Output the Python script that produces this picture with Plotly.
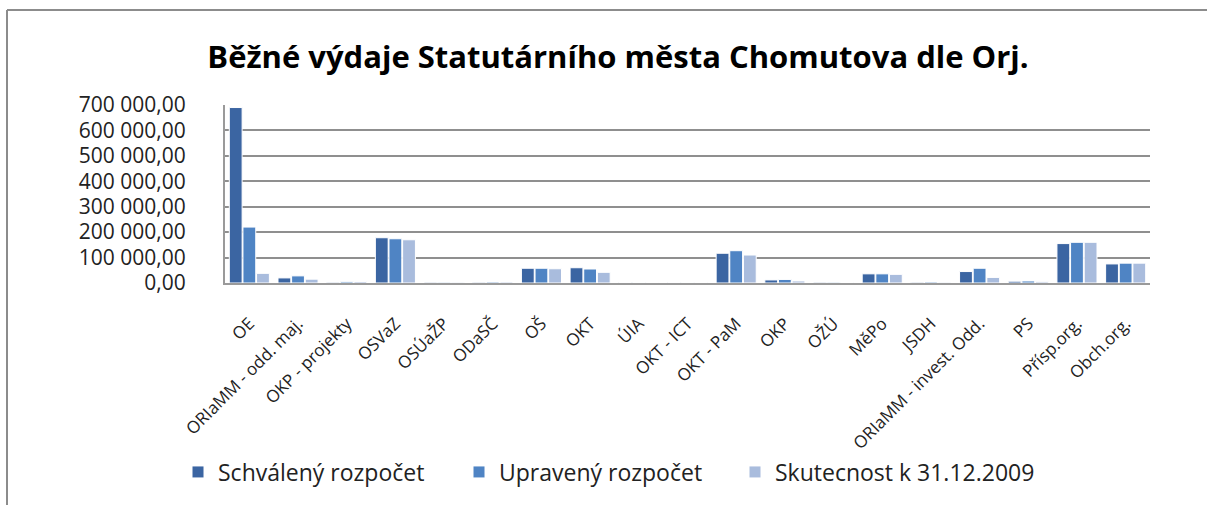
import plotly.graph_objects as go

categories = ["OE", "ORIaMM - odd. maj.", "OKP - projekty", "OSVaZ", "OSÚaŽP", "ODaSČ",
              "OŠ", "OKT", "ÚIA", "OKT - ICT", "OKT - PaM", "OKP", "OŽÚ", "MěPo", "JSDH",
              "ORIaMM - invest. Odd.", "PS", "Přísp.org.", "Obch.org."]

schvaleny = [690000, 20000, 3000, 178000, 3000, 3000, 58000, 60000, 2000, 2000,
             117000, 12000, 3000, 36000, 3000, 45000, 7000, 155000, 75000]
upraveny = [220000, 28000, 5000, 174000, 3000, 4000, 58000, 55000, 2000, 2000,
            127000, 14000, 3000, 36000, 4000, 58000, 8000, 160000, 78000]
skutecnost = [38000, 15000, 6000, 170000, 3000, 4000, 56000, 42000, 2000, 2000,
              110000, 8000, 2000, 34000, 3000, 22000, 5000, 160000, 78000]

series_names = ["Schválený rozpočet", "Upravený rozpočet", "Skutecnost k 31.12.2009"]
series_colors = ["#3b65a2", "#4f84c4", "#a9bcdd"]
legend_ids = ["legend", "legend2", "legend3"]
legend_text_x = [218, 499, 775]

tick_vals = [0, 100000, 200000, 300000, 400000, 500000, 600000, 700000]
tick_text = ["0,00", "100 000,00", "200 000,00", "300 000,00", "400 000,00",
             "500 000,00", "600 000,00", "700 000,00"]

W, H = 1207, 505
L, R, T, B = 225, 57, 105, 222
PW, PH = W - L - R, H - T - B

fig = go.Figure()
for name, vals, col, lg in zip(series_names, [schvaleny, upraveny, skutecnost],
                               series_colors, legend_ids):
    fig.add_trace(go.Bar(
        x=categories, y=vals, name=name, legend=lg,
        marker=dict(color=col, line=dict(color="white", width=1)),
    ))

font_family = "Open Sans, DejaVu Sans, sans-serif"

legend_common = dict(orientation="h", xref="container", yref="container",
                     xanchor="left", yanchor="middle", y=1 - 472 / H,
                     font=dict(size=23, color="#222", family=font_family),
                     itemwidth=30, bgcolor="rgba(0,0,0,0)")
legends = {}
for lg, tx in zip(legend_ids, legend_text_x):
    d = dict(legend_common)
    d["x"] = (tx - 40) / W
    legends[lg] = d

fig.update_layout(
    width=W, height=H,
    paper_bgcolor="white", plot_bgcolor="white",
    margin=dict(l=L, r=R, t=T, b=B, autoexpand=False),
    barmode="group", bargap=0.16, bargroupgap=0.06,
    title=dict(text="<b>Běžné výdaje Statutárního města Chomutova dle Orj.</b>",
               x=618 / W, xanchor="center", y=1 - 57 / H, yanchor="middle",
               font=dict(family=font_family, size=31, color="black")),
    font=dict(family=font_family, color="black"),
    showlegend=True,
    xaxis=dict(tickangle=-45, tickfont=dict(size=17, color="#222"),
               showline=True, linecolor="#9a9a9a", linewidth=2,
               ticks="", showgrid=False, ticklabelstandoff=22),
    yaxis=dict(range=[0, 700000], tickvals=tick_vals, ticktext=tick_text,
               tickfont=dict(size=21, color="#222"),
               showgrid=True, gridcolor="#8f8f8f", gridwidth=2,
               showline=True, linecolor="#9a9a9a", linewidth=2,
               ticklabelstandoff=33, zeroline=False),
    shapes=[
        dict(type="line", xref="paper", yref="paper",
             x0=(7 - L) / PW, x1=(W - L) / PW,
             y0=(T + PH - 10) / PH, y1=(T + PH - 10) / PH,
             line=dict(color="#8c8c8c", width=2)),
        dict(type="line", xref="paper", yref="paper",
             x0=(7 - L) / PW, x1=(7 - L) / PW,
             y0=(T + PH - 10) / PH, y1=(T + PH - H) / PH,
             line=dict(color="#8c8c8c", width=2)),
    ],
    **legends,
)

fig.write_html("out.html", config={"displayModeBar": False},
               post_script="document.body.style.margin='0';document.body.style.overflow='hidden';")
